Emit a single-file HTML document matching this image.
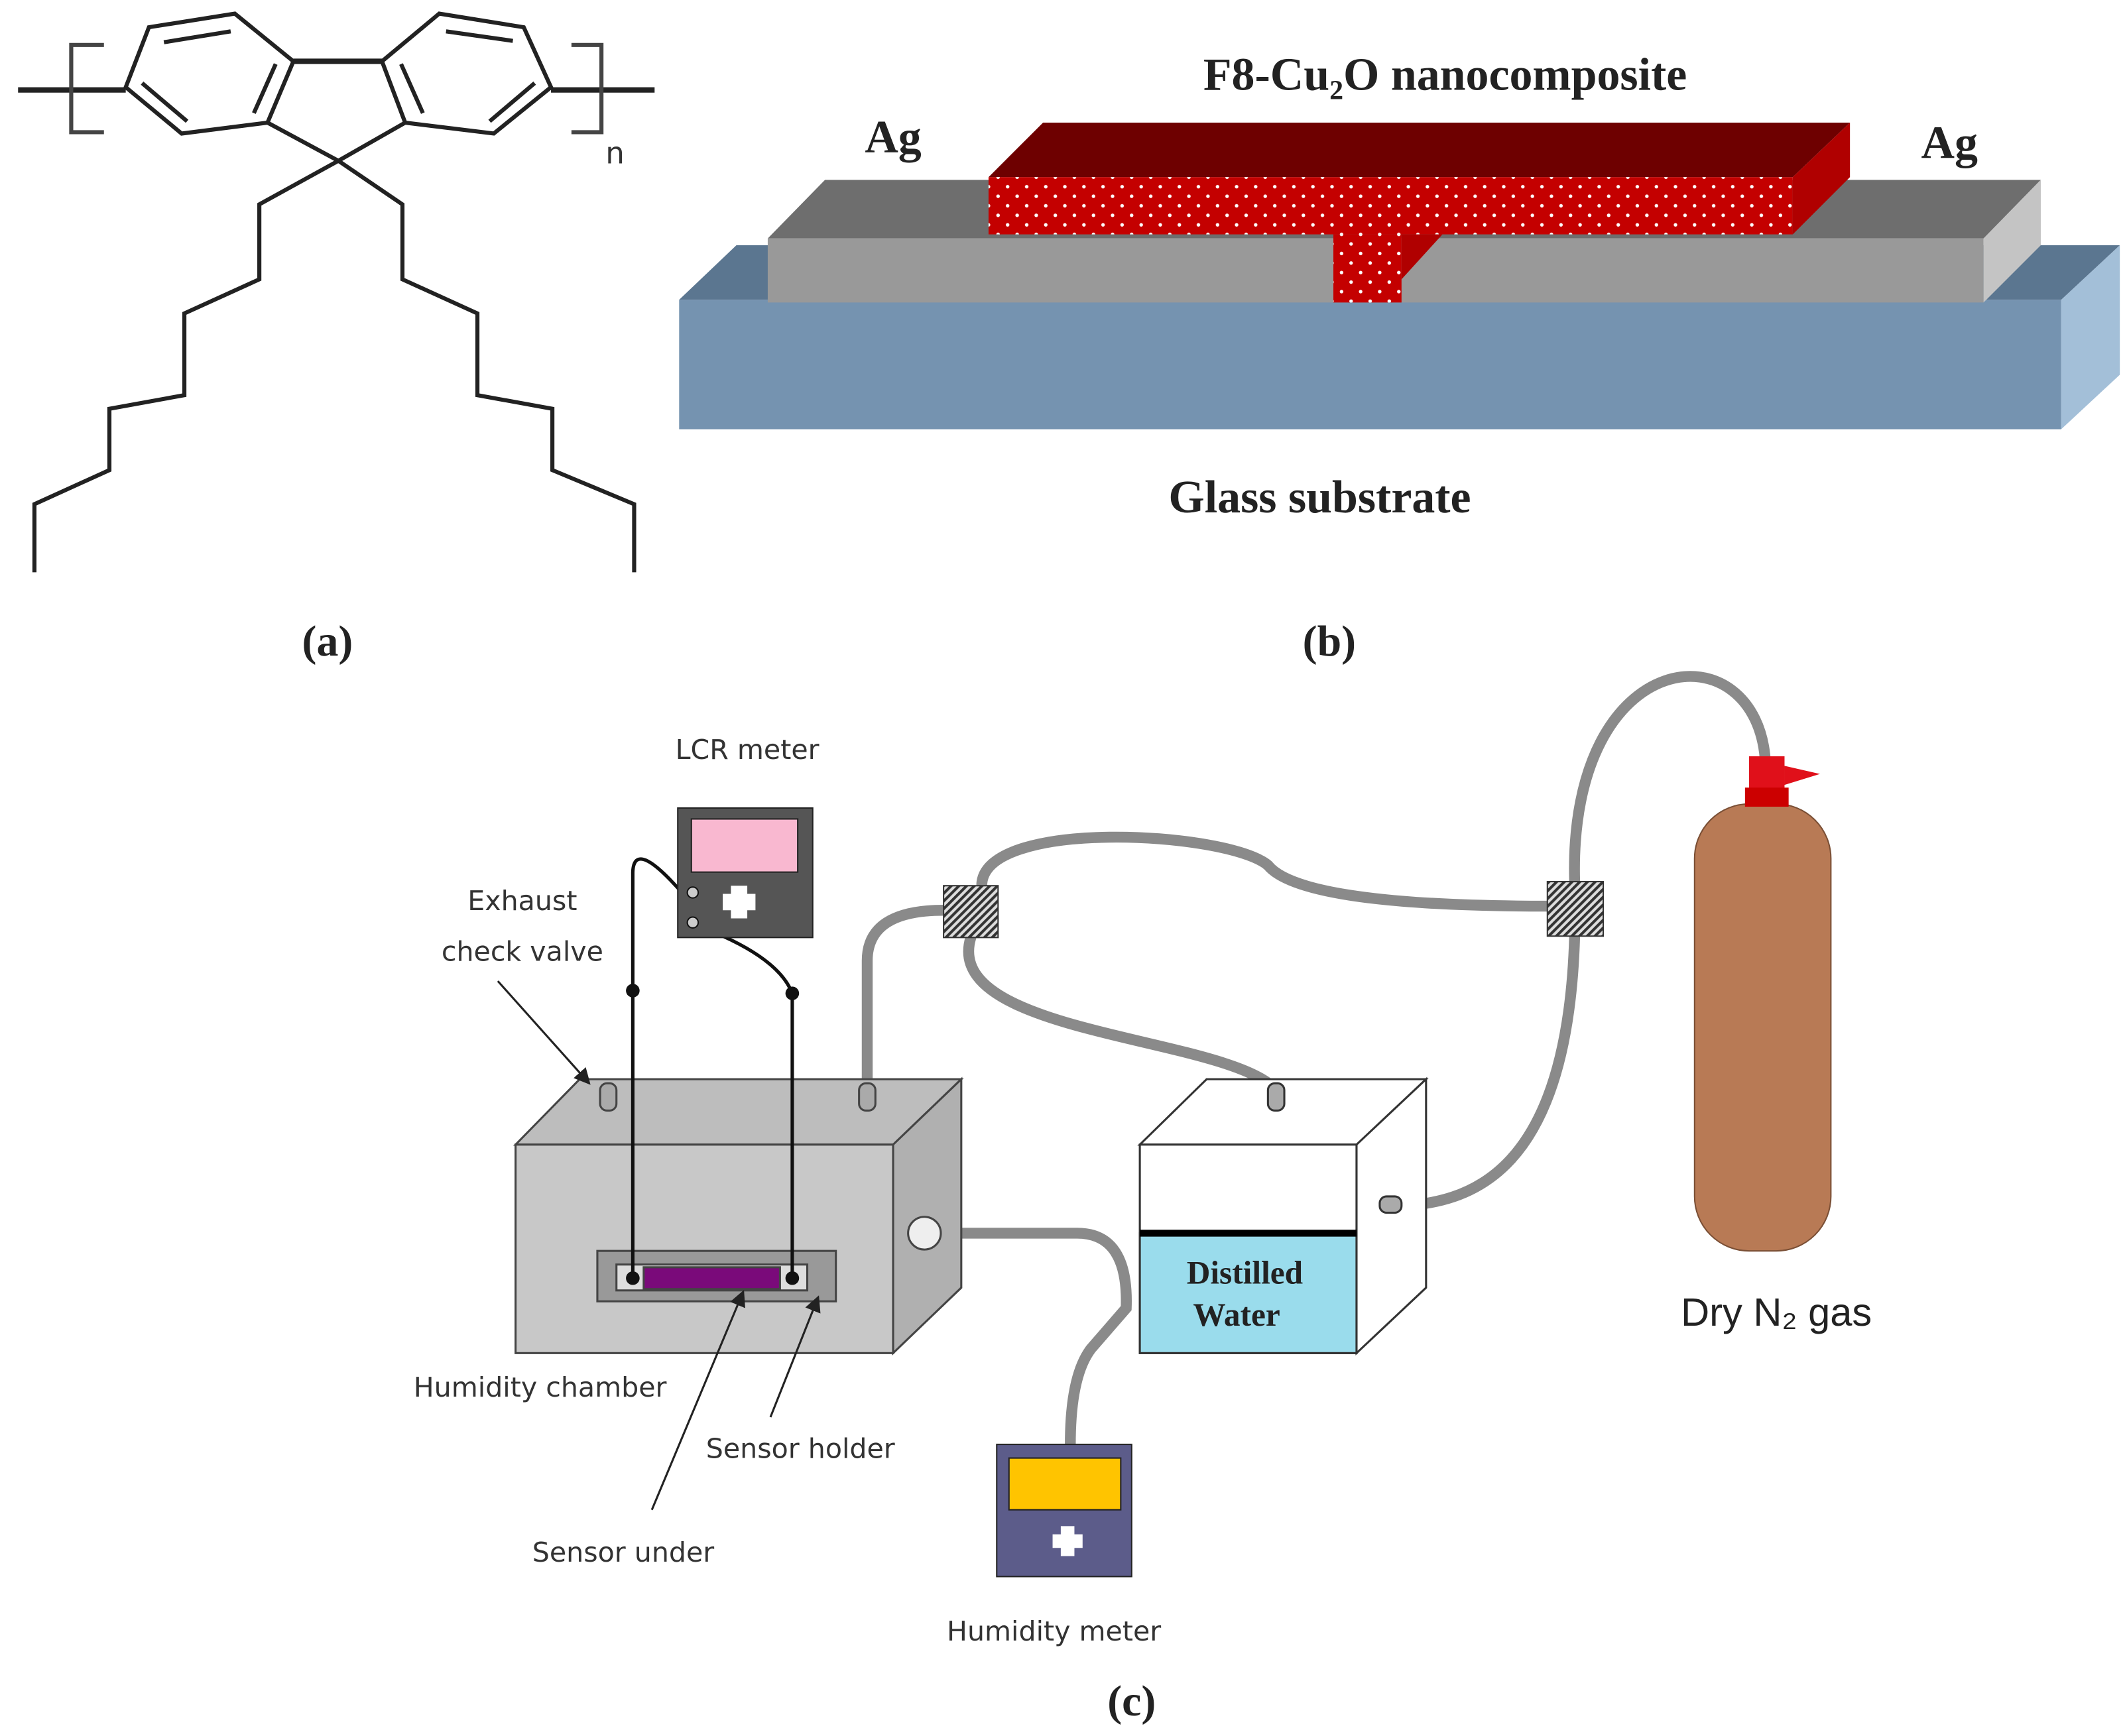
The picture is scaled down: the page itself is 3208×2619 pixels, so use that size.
<!DOCTYPE html>
<html><head><meta charset="utf-8"><style>
html,body{margin:0;padding:0;background:#fff}
svg{display:block}
.serif{font-family:"Liberation Serif",serif;font-weight:bold;fill:#222}
.sans{font-family:"DejaVu Sans","Liberation Sans",sans-serif;fill:#333}
</style></head><body>
<svg width="3208" height="2619" viewBox="0 0 1560 1274" xmlns="http://www.w3.org/2000/svg">
<defs>
<pattern id="dots" width="14" height="14" patternUnits="userSpaceOnUse">
<rect width="14" height="14" fill="#c40000"/><circle cx="4" cy="4" r="1.3" fill="#fff"/><circle cx="11" cy="11" r="1.3" fill="#fff"/>
</pattern>
<pattern id="hatch" width="4" height="4" patternUnits="userSpaceOnUse" patternTransform="rotate(45)">
<rect width="4" height="4" fill="#ddd"/><rect width="2" height="4" fill="#333"/>
</pattern>
<marker id="ar" markerWidth="8" markerHeight="8" refX="7" refY="4" orient="auto"><path d="M0,0 L8,4 L0,8 z" fill="#222"/></marker>
</defs>

<!-- (a) chemical structure -->
<g fill="none" stroke="#222" stroke-width="3">
<line x1="13" y1="66" x2="92" y2="66" stroke-width="4"/>
<line x1="404" y1="66" x2="480" y2="66" stroke-width="4"/>
<path d="M76,33 L52,33 L52,97 L76,97" stroke="#444"/>
<path d="M419,33 L441,33 L441,97 L419,97" stroke="#444"/>
<polygon points="172,10 109,20 92,64 133,98 196,90 215,45"/>
<polygon points="322,10 384,20 404,64 362,98 297,90 280,45"/>
<line x1="215" y1="45" x2="280" y2="45" stroke-width="4"/>
<path d="M196,90 L248,118 L297,90"/>
<line x1="120" y1="31" x2="169" y2="23"/>
<line x1="104" y1="61" x2="137" y2="89"/>
<line x1="202" y1="47" x2="186" y2="83"/>
<line x1="327" y1="23" x2="376" y2="30"/>
<line x1="392" y1="61" x2="359" y2="89"/>
<line x1="294" y1="47" x2="310" y2="83"/>
<path d="M248,118 L190,150 L190,205 L135,230 L135,290 L80,300 L80,345 L25,370 L25,420"/>
<path d="M248,118 L295,150 L295,205 L350,230 L350,290 L405,300 L405,345 L465,370 L465,420"/>
</g>
<text x="444" y="120" class="sans" font-size="22">n</text>

<!-- (b) device -->
<polygon points="498,220 540,180 1555,180 1512,220" fill="#5b7690"/>
<rect x="498" y="220" width="1014" height="95" fill="#7593b0"/>
<polygon points="1512,220 1555,180 1555,275 1512,315" fill="#a3bfd8"/>
<polygon points="563,175 605,132 1497,132 1455,175" fill="#6e6e6e"/>
<rect x="563" y="175" width="892" height="47" fill="#999"/>
<polygon points="1455,175 1497,132 1497,180 1455,222" fill="#c4c4c4"/>
<polygon points="725,130 765,90 1357,90 1315,130" fill="#6e0000"/>
<rect x="725" y="130" width="590" height="42" fill="url(#dots)"/>
<polygon points="1315,130 1357,90 1357,130 1315,172" fill="#b00000"/>
<rect x="978" y="172" width="50" height="50" fill="url(#dots)"/>
<polygon points="1028,172 1058,172 1028,205" fill="#b00000"/>
<text x="1060" y="66" class="serif" font-size="34" text-anchor="middle">F8-Cu₂O nanocomposite</text>
<text x="655" y="112" class="serif" font-size="34" text-anchor="middle">Ag</text>
<text x="1430" y="116" class="serif" font-size="34" text-anchor="middle">Ag</text>
<text x="968" y="376" class="serif" font-size="34" text-anchor="middle">Glass substrate</text>
<text x="240" y="481" class="serif" font-size="32" text-anchor="middle">(a)</text>
<text x="975" y="481" class="serif" font-size="32" text-anchor="middle">(b)</text>
<text x="830" y="1259" class="serif" font-size="32" text-anchor="middle">(c)</text>

<!-- (c) tubes -->
<g fill="none" stroke="#8a8a8a" stroke-width="8" stroke-linecap="round">
<path d="M636,800 L636,705 Q636,668 692,668"/>
<path d="M720,650 C720,600 900,610 930,635 C950,660 1050,665 1135,665"/>
<path d="M712,688 C690,760 900,760 936,800"/>
<path d="M1155,647 C1150,470 1290,460 1295,560"/>
<path d="M1155,687 C1150,860 1080,885 1020,885"/>
<path d="M678,905 L790,905 Q828,905 826,960 L800,990 Q785,1010 785,1060"/>
</g>
<rect x="692" y="650" width="40" height="38" fill="url(#hatch)" stroke="#333"/>
<rect x="1135" y="647" width="41" height="40" fill="url(#hatch)" stroke="#333"/>

<!-- humidity chamber -->
<g stroke="#444" stroke-width="1.5">
<polygon points="378,840 425,792 705,792 655,840" fill="#bdbdbd"/>
<rect x="378" y="840" width="277" height="153" fill="#c8c8c8"/>
<polygon points="655,840 705,792 705,945 655,993" fill="#b0b0b0"/>
<rect x="438" y="918" width="175" height="37" fill="#999"/>
<rect x="452" y="928" width="140" height="19" fill="#ddd"/>
<rect x="472" y="930" width="100" height="16" fill="#7a0a7a"/>
<circle cx="678" cy="905" r="12" fill="#eee"/>
<rect x="440" y="795" width="12" height="20" rx="5" fill="#aaa"/>
<rect x="630" y="795" width="12" height="20" rx="5" fill="#aaa"/>
</g>
<g stroke="#111" stroke-width="2.5" fill="none">
<path d="M464,938 L464,727 L464,640 Q465,615 500,655"/>
<path d="M581,938 L581,729 Q570,700 505,677"/>
</g>
<circle cx="464" cy="938" r="5" fill="#111"/><circle cx="581" cy="938" r="5" fill="#111"/>
<circle cx="464" cy="727" r="5" fill="#111"/><circle cx="581" cy="729" r="5" fill="#111"/>

<!-- LCR meter -->
<rect x="497" y="593" width="99" height="95" fill="#555" stroke="#222"/>
<rect x="507" y="601" width="78" height="39" fill="#f9b8d0" stroke="#222"/>
<path d="M536,650 h12 v6 h6 v12 h-6 v6 h-12 v-6 h-6 v-12 h6z" fill="#fff"/>
<circle cx="508" cy="655" r="4" fill="#ccc" stroke="#111"/><circle cx="508" cy="677" r="4" fill="#ccc" stroke="#111"/>

<!-- water box -->
<g stroke="#333" stroke-width="1.5">
<polygon points="836,840 885,792 1046,792 995,840" fill="#fff"/>
<rect x="836" y="840" width="159" height="153" fill="#fff"/>
<rect x="836" y="905" width="159" height="88" fill="#9adcec"/>
<polygon points="995,840 1046,792 1046,945 995,993" fill="#fff"/>
<rect x="930" y="795" width="12" height="20" rx="5" fill="#aaa"/>
<rect x="1012" y="878" width="16" height="12" rx="5" fill="#aaa"/>
</g>
<line x1="836" y1="905" x2="995" y2="905" stroke="#000" stroke-width="5"/>
<text x="913" y="942" class="serif" font-size="24" text-anchor="middle">Distilled</text>
<text x="907" y="973" class="serif" font-size="24" text-anchor="middle">Water</text>

<!-- cylinder -->
<rect x="1243" y="590" width="100" height="328" rx="40" fill="#b87a55" stroke="#7a4f35"/>
<rect x="1283" y="555" width="26" height="25" fill="#e0101a"/>
<polygon points="1309,562 1335,568 1309,576" fill="#e0101a"/>
<rect x="1280" y="578" width="32" height="14" fill="#c00"/>

<!-- humidity meter -->
<rect x="731" y="1060" width="99" height="97" fill="#5c5c8a" stroke="#222"/>
<rect x="740" y="1070" width="82" height="38" fill="#ffc400" stroke="#222"/>
<path d="M778,1120 h10 v6 h6 v10 h-6 v6 h-10 v-6 h-6 v-10 h6z" fill="#fff"/>

<!-- labels -->
<text x="548" y="557" class="sans" font-size="20" text-anchor="middle">LCR meter</text>
<text x="383" y="668" class="sans" font-size="20" text-anchor="middle">Exhaust</text>
<text x="383" y="705" class="sans" font-size="20" text-anchor="middle">check valve</text>
<text x="396" y="1025" class="sans" font-size="20" text-anchor="middle">Humidity chamber</text>
<text x="587" y="1070" class="sans" font-size="20" text-anchor="middle">Sensor holder</text>
<text x="457" y="1146" class="sans" font-size="20" text-anchor="middle">Sensor under</text>
<text x="773" y="1204" class="sans" font-size="20" text-anchor="middle">Humidity meter</text>
<text x="1303" y="973" font-family="Liberation Sans,sans-serif" font-size="29" fill="#222" text-anchor="middle">Dry N₂ gas</text>
<g stroke="#222" stroke-width="1.5">
<line x1="365" y1="720" x2="432" y2="795" marker-end="url(#ar)"/>
<line x1="478" y1="1108" x2="545" y2="948" marker-end="url(#ar)"/>
<line x1="565" y1="1040" x2="600" y2="952" marker-end="url(#ar)"/>
</g>
</svg>
</body></html>
